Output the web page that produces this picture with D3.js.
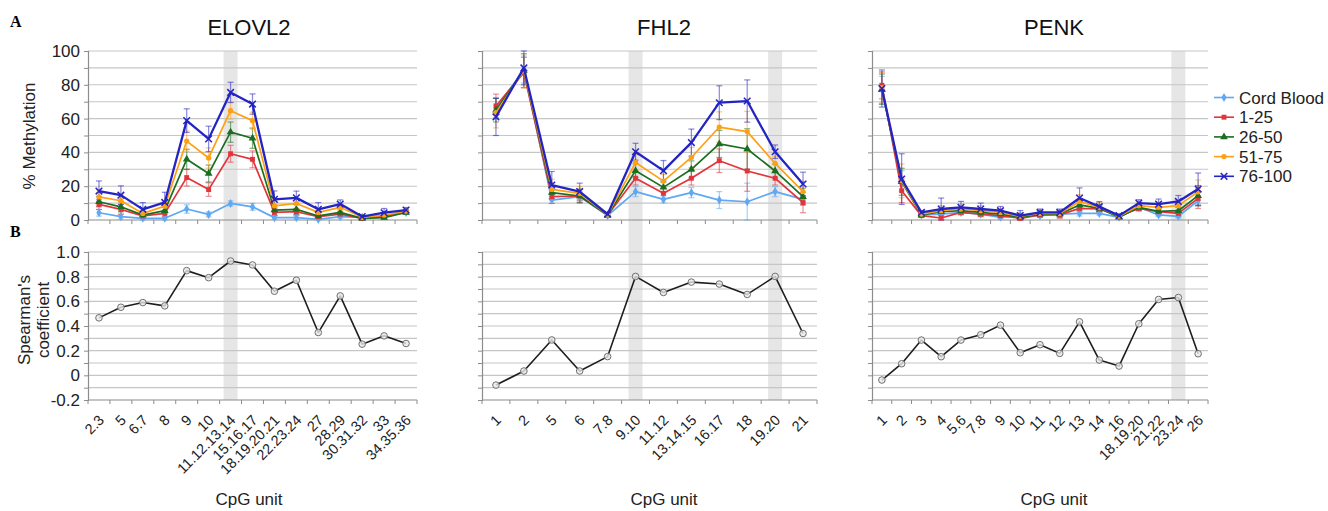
<!DOCTYPE html>
<html>
<head>
<meta charset="utf-8">
<script src="https://cdn.jsdelivr.net/npm/d3@7"></script>
<style>
  html, body { margin: 0; padding: 0; background: #fff; }
  svg { display: block; font-family: "Liberation Sans", Arial, sans-serif; }
</style>
</head>
<body>
<svg id="chart" width="1328" height="511"></svg>
<script>
// ---- CpG units per amplicon ----
const elovl2Units = ["2.3","5","6.7","8","9","10","11.12.13.14","15.16.17","18.19.20.21","22.23.24","27","28.29","30.31.32","33","34.35.36"];
const fhl2Units = ["1","2","5","6","7.8","9.10","11.12","13.14.15","16.17","18","19.20","21"];
const penkUnits = ["1","2","3","4","5.6","7.8","9","10","11","12","13","14","16","18.19.20","21.22","23.24","26"];

// highlighted CpG units
const elovl2Highlight = ["11.12.13.14"];
const fhl2Highlight = ["9.10","19.20"];
const penkHighlight = ["23.24"];

// age groups
const ageGroups = ["Cord Blood","1-25","26-50","51-75","76-100"];

// ---- ELOVL2 mean % methylation and error ----
const elovl2CordBlood = [4.3,2,1,1,6.5,3.3,9.8,7.8,1.4,1.4,0.4,2,1.6,2.4,4.5];
const elovl2Age1to25 = [9.2,6.3,2.4,3.9,25.1,18,39.2,35.9,4.5,4.9,2,3.5,1,2.4,4.9];
const elovl2Age26to50 = [10.8,7.8,2.9,5.5,35.9,27.5,52,48.4,5.9,6.3,2.4,4.5,1,1.4,4.5];
const elovl2Age51to75 = [13.7,11.4,3.9,8.2,46.7,36.7,64.7,58.8,8.4,9.8,4.5,7.5,1.6,2.9,5.3];
const elovl2Age76to100 = [17.1,14.7,6.3,10.4,58.8,48,75.5,68.6,12.2,13.1,6.3,9.4,2,4.3,5.9];
const elovl2CordBloodErr = [2,1.5,1,1,2.5,1.5,1.5,2,1,1,1,1,0.5,1,1];
const elovl2Age1to25Err = [3,3,1.5,2,5,4,5,5,2,2,1.5,1.5,1,1,1];
const elovl2Age26to50Err = [3,3,2,2,6,5,6,6,3,3,2,2,1,1,1];
const elovl2Age51to75Err = [4,4,2,3,6,6,5,5,3,3,2,2,1,1.5,1];
const elovl2Age76to100Err = [6,5.5,4,6,7,7.5,6,6,5,4,4,2.5,1,2.5,1.5];

// ---- FHL2 ----
const fhl2CordBlood = [66,89,11.8,13.8,2.6,16.8,12.2,16.2,11.8,10.8,16.8,12.2];
const fhl2Age1to25 = [67.5,87.2,13.8,14.2,3,24.7,15.8,24.7,35.1,29,24.7,10.3];
const fhl2Age26to50 = [65,88.4,16.2,14.2,3,29.2,19.3,30,45,42,29,13.8];
const fhl2Age51to75 = [63.5,88.4,18.1,15.8,3,34,23,37,55,52.3,33.5,16.8];
const fhl2Age76to100 = [61,90,20.7,16.8,3.4,40.4,29.2,45.8,69.4,70.4,40.4,21.3];
const fhl2CordBloodErr = [6,8,2,3,1,3,2,3,5,11,3,2];
const fhl2Age1to25Err = [7,9,4,4,1,4,3,4,7,12,4,6];
const fhl2Age26to50Err = [7,10,4,4,1,4,3,5,8,12,4,5];
const fhl2Age51to75Err = [9,10,6,4,1,5,4,6,9,12,4,6];
const fhl2Age76to100Err = [11,10,8,5,1,5,6,8,10,12.5,4,7];

// ---- PENK ----
const penkCordBlood = [77,23.2,3,3.5,4.5,3.5,1.6,2.6,2.6,3.5,3.9,3.9,1.6,7.5,3,2.2,11.4];
const penkAge1to25 = [79.7,17.3,2.6,1.2,4.5,3.5,2.6,1,3,3,6.9,6.5,2.2,6.9,4.9,3.9,12.8];
const penkAge26to50 = [77.4,22.6,3,4.9,5.5,4.5,3.5,1.6,3.5,3.5,8.9,6.9,1.6,7.5,5.1,5.5,14.4];
const penkAge51to75 = [78.3,23.2,3.5,5.5,6.5,5.5,4.5,2.2,3.9,3.9,11,7.5,2.2,8.5,7.5,8.5,16.7];
const penkAge76to100 = [77.8,24.2,4.5,6.5,7.5,6.5,5.5,2.6,4.5,4.5,13,7.9,2.6,10,9.4,11,18.3];
const penkCordBloodErr = [8,6,1,1,1,1,1,1,1,1,1.5,1,0.5,1.5,1,1,3];
const penkAge1to25Err = [8,7,1,1.5,1.5,1.5,1.5,1,1.5,2,2,1.5,0.5,1.5,2,2,6];
const penkAge26to50Err = [9,8,1,2,2,2,2,1,1.5,2,3,2,0.5,2,2,3,6];
const penkAge51to75Err = [9,10,1,3,3,3,2,2,2,2,4,3,0.5,2,3,3,7];
const penkAge76to100Err = [11,15,1,6.5,3.5,3.5,2.5,3,2,2,6,3,0.5,2,3,3.5,9.5];

// ---- Spearman's coefficient (age vs methylation) ----
const elovl2Spearman = [0.466,0.552,0.59,0.563,0.849,0.792,0.927,0.895,0.682,0.771,0.347,0.644,0.253,0.32,0.258];
const fhl2Spearman = [-0.079,0.035,0.287,0.035,0.152,0.802,0.672,0.756,0.74,0.656,0.802,0.339];
const penkSpearman = [-0.038,0.094,0.286,0.151,0.286,0.329,0.407,0.183,0.248,0.178,0.434,0.124,0.075,0.418,0.615,0.631,0.175];

// axis tick values
const methylationTicks = [0,20,40,60,80,100];
const spearmanTicks = [-0.2,0,0.2,0.4,0.6,0.8,1.0];

// ---- assemble panels ----
const genes = [
  { name: "ELOVL2", units: elovl2Units, highlight: elovl2Highlight, spearman: elovl2Spearman,
    means: [elovl2CordBlood, elovl2Age1to25, elovl2Age26to50, elovl2Age51to75, elovl2Age76to100],
    errs: [elovl2CordBloodErr, elovl2Age1to25Err, elovl2Age26to50Err, elovl2Age51to75Err, elovl2Age76to100Err],
    x0: 88, x1: 417, titleX: 249, labels: true },
  { name: "FHL2", units: fhl2Units, highlight: fhl2Highlight, spearman: fhl2Spearman,
    means: [fhl2CordBlood, fhl2Age1to25, fhl2Age26to50, fhl2Age51to75, fhl2Age76to100],
    errs: [fhl2CordBloodErr, fhl2Age1to25Err, fhl2Age26to50Err, fhl2Age51to75Err, fhl2Age76to100Err],
    x0: 482, x1: 817, titleX: 664, labels: false },
  { name: "PENK", units: penkUnits, highlight: penkHighlight, spearman: penkSpearman,
    means: [penkCordBlood, penkAge1to25, penkAge26to50, penkAge51to75, penkAge76to100],
    errs: [penkCordBloodErr, penkAge1to25Err, penkAge26to50Err, penkAge51to75Err, penkAge76to100Err],
    x0: 872, x1: 1208, titleX: 1054, labels: false }
];

const seriesStyle = [
  { color: "#5ea8f4", symbol: d3.symbolDiamond, size: 24, width: 1.7 },
  { color: "#e3343b", symbol: d3.symbolSquare, size: 24, width: 1.7 },
  { color: "#1a6e1f", symbol: d3.symbolTriangle, size: 26, width: 1.7 },
  { color: "#ffa014", symbol: d3.symbolCircle, size: 22, width: 1.7 },
  { color: "#2424c4", symbol: d3.symbolCross, size: 26, width: 2.3, cross: true }
];

const TOP = { y0: 51, y1: 220 };
const BOT = { y0: 252, y1: 400 };
const gridColor = "#c6c6c6";
const axisColor = "#8c8c8c";

const svg = d3.select("#chart");

// panel letters
svg.append("text").attr("x", 10).attr("y", 27).text("A")
  .attr("font-family", "Liberation Serif, serif").attr("font-weight", "bold").attr("font-size", 16);
svg.append("text").attr("x", 10).attr("y", 237).text("B")
  .attr("font-family", "Liberation Serif, serif").attr("font-weight", "bold").attr("font-size", 16);

// y-axis titles
svg.append("text").attr("transform", "translate(35,136) rotate(-90)")
  .attr("text-anchor", "middle").attr("font-size", 17).attr("fill", "#222").text("% Methylation");
const sp = svg.append("text").attr("transform", "translate(0,320) rotate(-90)")
  .attr("text-anchor", "middle").attr("font-size", 17).attr("fill", "#222");
sp.append("tspan").attr("x", 0).attr("y", 30).text("Spearman's");
sp.append("tspan").attr("x", 0).attr("y", 49).text("coefficient");

genes.forEach(g => {
  const x = d3.scaleBand().domain(g.units).range([g.x0, g.x1]).padding(0);
  const cx = u => x(u) + x.bandwidth() / 2;
  const yTop = d3.scaleLinear().domain([0, 100]).range([TOP.y1, TOP.y0]);
  const yBot = d3.scaleLinear().domain([-0.2, 1.0]).range([BOT.y1, BOT.y0]);

  const panel = svg.append("g");

  // highlighted unit bands spanning both panels
  panel.selectAll("rect.hl").data(g.highlight).join("rect")
    .attr("x", u => cx(u) - 7).attr("width", 14)
    .attr("y", TOP.y0).attr("height", BOT.y1 - TOP.y0)
    .attr("fill", "#e6e6e6");

  // title
  panel.append("text").attr("x", g.titleX).attr("y", 35).attr("text-anchor", "middle")
    .attr("font-size", 22).attr("fill", "#111").text(g.name);

  // ---------- top panel: % methylation ----------
  const top = panel.append("g");
  top.selectAll("line.grid").data(d3.range(10, 101, 10)).join("line")
    .attr("x1", g.x0).attr("x2", g.x1).attr("y1", d => yTop(d)).attr("y2", d => yTop(d))
    .attr("stroke", gridColor).attr("stroke-width", 1.1);

  const yAxisTop = d3.axisLeft(yTop).tickValues(d3.range(0, 101, 10)).tickSize(4)
    .tickFormat(d => (g.labels && methylationTicks.includes(d)) ? d : "");
  const ga = top.append("g").attr("transform", `translate(${g.x0},0)`).call(yAxisTop);
  styleAxis(ga);
  ga.selectAll("text").attr("font-size", 17).attr("fill", "#222").attr("dx", "-1");

  drawXAxis(top, x, g, TOP.y1);

  // error bars, lines and markers per age group
  g.means.forEach((vals, si) => {
    const st = seriesStyle[si];
    const errs = g.errs[si];
    const pts = g.units.map((u, i) => ({ x: cx(u), v: vals[i], e: errs[i] }));
    const eb = top.append("g").attr("stroke", st.color).attr("stroke-opacity", 0.55).attr("stroke-width", 1.2);
    pts.forEach(p => {
      const yHi = yTop(Math.min(100, p.v + p.e)), yLo = yTop(Math.max(0, p.v - p.e));
      eb.append("line").attr("x1", p.x).attr("x2", p.x).attr("y1", yHi).attr("y2", yLo);
      eb.append("line").attr("x1", p.x - 3).attr("x2", p.x + 3).attr("y1", yHi).attr("y2", yHi);
      eb.append("line").attr("x1", p.x - 3).attr("x2", p.x + 3).attr("y1", yLo).attr("y2", yLo);
    });
  });
  g.means.forEach((vals, si) => {
    const st = seriesStyle[si];
    const pts = g.units.map((u, i) => ({ x: cx(u), v: vals[i] }));
    top.append("path").datum(pts)
      .attr("d", d3.line().x(p => p.x).y(p => yTop(p.v)))
      .attr("fill", "none").attr("stroke", st.color).attr("stroke-width", st.width)
      .attr("stroke-linejoin", "round");
    drawMarkers(top, pts.map(p => [p.x, yTop(p.v)]), st);
  });

  // ---------- bottom panel: Spearman's coefficient ----------
  const bot = panel.append("g");
  bot.selectAll("line.grid").data(d3.range(-1, 11).map(k => k / 10)).join("line")
    .attr("x1", g.x0).attr("x2", g.x1).attr("y1", d => yBot(d)).attr("y2", d => yBot(d))
    .attr("stroke", gridColor).attr("stroke-width", 1.1);

  const yAxisBot = d3.axisLeft(yBot).tickValues(d3.range(-2, 11).map(k => k / 10)).tickSize(4)
    .tickFormat(d => {
      if (!g.labels) return "";
      const hit = spearmanTicks.find(t => Math.abs(t - d) < 1e-9);
      if (hit === undefined) return "";
      return Math.abs(hit) < 1e-9 ? "0" : hit.toFixed(1);
    });
  const gb = bot.append("g").attr("transform", `translate(${g.x0},0)`).call(yAxisBot);
  styleAxis(gb);
  gb.selectAll("text").attr("font-size", 17).attr("fill", "#222").attr("dx", "-1");

  drawXAxis(bot, x, g, BOT.y1);

  const spts = g.units.map((u, i) => [cx(u), yBot(g.spearman[i])]);
  bot.append("path").datum(spts).attr("d", d3.line())
    .attr("fill", "none").attr("stroke", "#1e1e1e").attr("stroke-width", 1.6)
    .attr("stroke-linejoin", "round");
  bot.selectAll("circle").data(spts).join("circle")
    .attr("cx", d => d[0]).attr("cy", d => d[1]).attr("r", 3.3)
    .attr("fill", "#e8e8e8").attr("fill-opacity", 0.8).attr("stroke", "#707070").attr("stroke-width", 1);

  // rotated CpG unit labels
  bot.selectAll("text.unit").data(g.units).join("text")
    .attr("class", "unit")
    .attr("transform", u => `translate(${cx(u) + 6},421) rotate(-45)`)
    .attr("text-anchor", "end").attr("font-size", 14.5).attr("fill", "#222").text(u => u);

  // x-axis title
  panel.append("text").attr("x", g.titleX).attr("y", 505).attr("text-anchor", "middle")
    .attr("font-size", 17).attr("fill", "#222").text("CpG unit");
});

function styleAxis(sel) {
  sel.select(".domain").attr("stroke", axisColor).attr("stroke-width", 1.2);
  sel.selectAll(".tick line").attr("stroke", axisColor);
  sel.attr("font-family", null);
}

function drawXAxis(parent, x, g, yPos) {
  parent.append("line").attr("x1", g.x0).attr("x2", g.x1).attr("y1", yPos).attr("y2", yPos)
    .attr("stroke", axisColor).attr("stroke-width", 1.2);
  const edges = g.units.map(u => x(u)).concat([x.range()[1]]);
  parent.selectAll(null).data(edges).join("line")
    .attr("x1", d => d).attr("x2", d => d).attr("y1", yPos).attr("y2", yPos + 4)
    .attr("stroke", axisColor).attr("stroke-width", 1);
}

function drawMarkers(parent, pts, st) {
  if (st.cross) {
    const s = 3.3;
    const gm = parent.append("g").attr("stroke", st.color).attr("stroke-width", 1.5);
    pts.forEach(([px, py]) => {
      gm.append("line").attr("x1", px - s).attr("y1", py - s).attr("x2", px + s).attr("y2", py + s);
      gm.append("line").attr("x1", px - s).attr("y1", py + s).attr("x2", px + s).attr("y2", py - s);
    });
  } else {
    parent.append("g").selectAll("path").data(pts).join("path")
      .attr("transform", d => `translate(${d[0]},${d[1]})`)
      .attr("d", d3.symbol().type(st.symbol).size(st.size))
      .attr("fill", st.color);
  }
}

// ---- legend ----
const legend = svg.append("g");
ageGroups.forEach((name, i) => {
  const st = seriesStyle[i];
  const ly = 97.5 + i * 19.7;
  legend.append("line").attr("x1", 1214).attr("x2", 1234).attr("y1", ly).attr("y2", ly)
    .attr("stroke", st.color).attr("stroke-width", 1.6);
  drawMarkers(legend, [[1224, ly]], st);
  legend.append("text").attr("x", 1239).attr("y", ly + 6).attr("font-size", 17)
    .attr("fill", "#222").text(name);
});
</script>
</body>
</html>
